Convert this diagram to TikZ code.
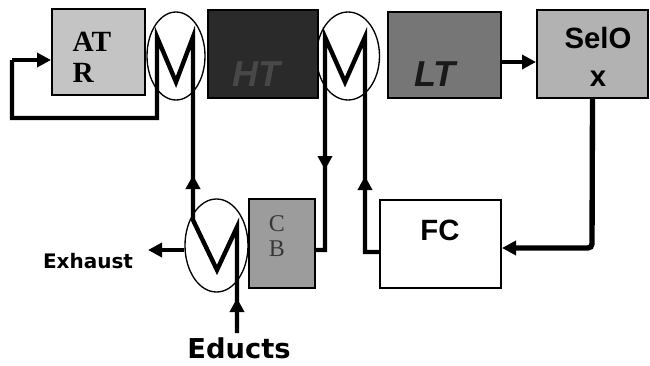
\documentclass[tikz,border=0pt]{standalone}
\usepackage{fontspec}
\setmainfont{Liberation Sans}
\newfontfamily\timesf{Liberation Serif}
\newfontfamily\verdf{DejaVu Sans}
\usetikzlibrary{arrows.meta,shapes.geometric}
\definecolor{atrc}{HTML}{C4C4C4}
\definecolor{htc}{HTML}{2A2A2A}
\definecolor{httext}{HTML}{484848}
\definecolor{ltc}{HTML}{767676}
\definecolor{seloxc}{HTML}{B2B2B2}
\definecolor{cbc}{HTML}{9C9C9C}
\definecolor{cbtext}{HTML}{383838}
\begin{document}
\begin{tikzpicture}[x=0.75pt,y=-0.75pt,
  box/.style={draw=black,line width=1.5pt,inner sep=0pt},
  hx/.style={draw=black,ellipse,line width=1pt,inner sep=0pt},
  flow/.style={line width=3.3pt},
  tip/.style={-{Triangle[length=10.5pt,width=10.5pt]}},
  lbl/.style={inner sep=0pt}
]
\useasboundingbox (0,0) rectangle (650,365);
% heat exchangers
\node[hx,minimum width=43.5pt,minimum height=66pt] (e1) at (176,56) {};
\node[hx,minimum width=47.25pt,minimum height=66pt] (e2) at (348,56) {};
\node[hx,minimum width=47.25pt,minimum height=69.75pt] (e3) at (216.5,245.5) {};
% boxes
\node[box,fill=atrc,minimum width=69.75pt,minimum height=64.5pt] (atr) at (98.5,52) {};
\node[box,fill=htc,minimum width=82.5pt,minimum height=66pt] (ht) at (263,54) {};
\node[box,fill=ltc,minimum width=84.75pt,minimum height=64.5pt] (lt) at (444.5,55) {};
\node[box,fill=seloxc,minimum width=83.25pt,minimum height=66pt] (selox) at (592.5,54) {};
\node[box,fill=cbc,minimum width=49.5pt,minimum height=66.75pt] (cb) at (282,243.5) {};
\node[box,fill=white,minimum width=90.75pt,minimum height=66pt] (fc) at (440.5,244) {};
% texts
\node[lbl,align=left,font=\timesf\bfseries\fontsize{22}{23}\selectfont] (atrt) at (92,57) {AT\\R};
\node[lbl,font=\bfseries\itshape\fontsize{27}{30}\selectfont,text=httext] (htt) at (256,74) {HT};
\node[lbl,font=\bfseries\itshape\fontsize{27}{30}\selectfont,text=black!90] (ltt) at (435,74) {LT};
\node[lbl,align=center,font=\bfseries\fontsize{22}{28.5}\selectfont] (seloxt) at (598,57) {SelO\\x};
\node[lbl,align=center,font=\timesf\fontsize{18}{19}\selectfont,text=cbtext] (cbt) at (277,236) {C\\B};
\node[lbl,font=\bfseries\fontsize{22}{24}\selectfont] (fct) at (440,230) {FC};
\node[lbl,font=\verdf\bfseries\fontsize{15}{17}\selectfont] (exh) at (88,261) {Exhaust};
\node[lbl,font=\verdf\bfseries\fontsize{20.5}{22}\selectfont] (edu) at (239,348) {Educts};
% coordinates
\coordinate (r1) at (12,60);
\coordinate (ex) at (148,250);
\coordinate (ed) at (237,333);
% M1 + M3 stream (educts up to ATR)
\draw[flow] (ed) -- (237,227) -- (217,270) -- (193,220) -- (193,37) -- (176,82) -- (157,37) -- (157,118) -- (12,118) -- (r1);
\draw[flow,tip] (r1) -- (atr.west |- r1);
\draw[flow,tip] (237,322) -- (237,298);
\draw[flow,tip] (193,200) -- (193,175);
% M2 stream (FC to CB)
\draw[flow] (fc.west |- 0,252) -- (365,252) -- (365,37) -- (345,82) -- (325,37) -- (325,250) -- (cb.east |- 0,250);
\draw[flow,tip] (365,200) -- (365,176);
\draw[flow,tip] (325,150) -- (325,170);
% exhaust
\draw[line width=3pt,tip] (e3.west |- ex) -- (ex);
% LT -> SelOx
\draw[flow,tip] (lt.east |- 0,62) -- (selox.west |- 0,62);
% SelOx -> FC
\draw[line width=4pt,tip,rounded corners=3pt] (selox.south) -- (592,248) -- (fc.east |- 0,248);
\end{tikzpicture}
\end{document}
